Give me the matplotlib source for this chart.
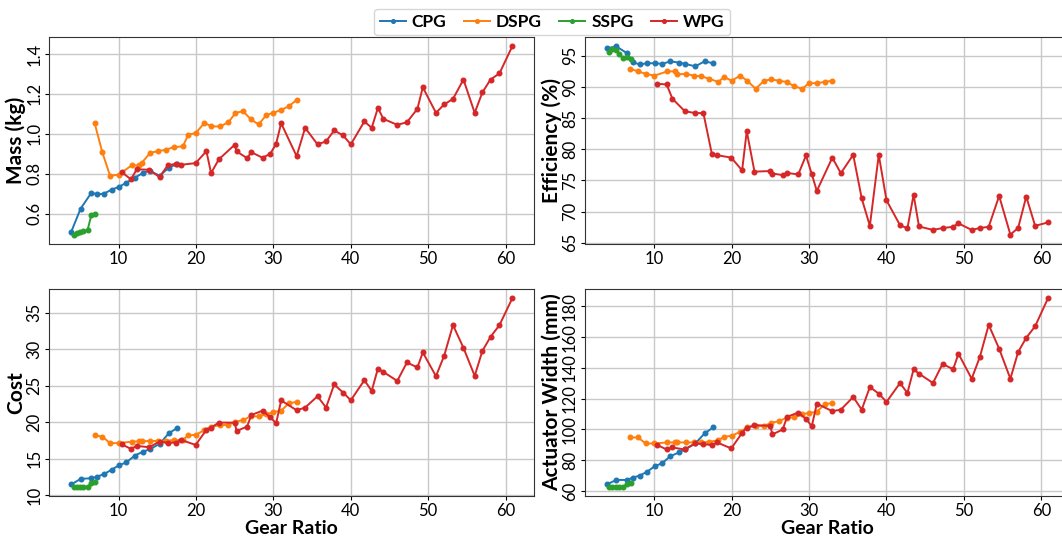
import matplotlib
matplotlib.use('Agg')
import matplotlib.pyplot as plt

# Datos (relacion de transmision vs. metricas)
cpg_gr = [3.9, 5.1, 6.5, 7.2, 8.1, 9.1, 10.1, 11.0, 12.1, 13.2, 14.0, 15.3, 16.5, 17.6]
cpg_mass = [0.51, 0.625, 0.705, 0.697, 0.70, 0.72, 0.735, 0.755, 0.78, 0.805, 0.815, 0.79, 0.83, 0.85]
cpg_eff = [96.2, 96.5, 95.4, 94.0, 93.6, 93.8, 93.8, 93.7, 94.1, 93.9, 93.7, 93.3, 94.1, 93.8]
cpg_cost = [11.5, 12.25, 12.35, 12.55, 12.9, 13.5, 14.15, 14.5, 15.45, 16.0, 16.3, 17.05, 18.5, 19.25]
cpg_width = [64.4, 67.2, 67.2, 68.7, 70.0, 72.6, 76.3, 78.0, 82.7, 85.1, 87.3, 90.9, 97.4, 101.3]

dspg_gr = [6.9, 7.9, 8.9, 10.0, 11.7, 12.7, 13.0, 14.1, 15.1, 16.1, 17.1, 18.3, 19.0, 20.0,
           21.1, 22.0, 23.1, 24.2, 25.1, 26.1, 27.1, 28.1, 29.1, 30.0, 31.0, 32.0, 33.0]
dspg_mass = [1.055, 0.908, 0.79, 0.795, 0.842, 0.842, 0.855, 0.905, 0.913, 0.92, 0.933, 0.937,
             0.995, 1.005, 1.055, 1.037, 1.037, 1.058, 1.105, 1.113, 1.072, 1.047, 1.095,
             1.105, 1.12, 1.138, 1.17]
dspg_eff = [92.9, 92.5, 92.1, 91.8, 92.5, 92.5, 92.0, 92.1, 91.8, 91.7, 91.3, 90.8, 91.6, 91.0,
            91.8, 91.0, 89.7, 91.0, 91.2, 91.0, 90.8, 90.1, 89.7, 90.6, 90.6, 90.8, 91.0]
dspg_cost = [18.2, 18.05, 17.15, 17.15, 17.35, 17.4, 17.4, 17.45, 17.45, 17.5, 17.55, 17.6, 18.2,
             18.3, 18.95, 19.4, 19.6, 19.65, 20.1, 20.3, 20.85, 20.8, 21.1, 21.4, 21.6, 22.6, 22.8]
dspg_width = [94.8, 94.8, 90.9, 90.9, 91.6, 91.6, 91.6, 91.6, 91.6, 91.6, 92.0, 93.0, 95.3, 95.9,
              98.5, 101.3, 102.4, 102.4, 104.3, 105.4, 107.6, 107.8, 109.9, 110.8, 111.4,
              116.4, 117.2]

sspg_gr = [4.2, 4.6, 5.0, 5.45, 6.0, 6.5, 7.0]
sspg_mass = [0.495, 0.505, 0.508, 0.512, 0.518, 0.595, 0.60]
sspg_eff = [95.6, 96.1, 96.0, 95.3, 94.6, 94.8, 94.4]
sspg_cost = [11.2, 11.2, 11.2, 11.2, 11.2, 11.7, 11.85]
sspg_width = [62.9, 62.9, 62.9, 62.9, 62.9, 64.6, 65.5]

wpg_gr = [10.4, 11.6, 12.35, 13.95, 15.3, 16.35, 17.45, 18.1, 19.95, 21.35,
          21.95, 22.95, 25.0, 25.25, 26.6, 27.15, 28.6, 29.6, 30.35, 31.0,
          33.0, 34.1, 35.7, 36.8, 37.85, 39.0, 40.0, 41.75, 42.7, 43.5,
          44.2, 46.0, 47.25, 48.6, 49.3, 51.0, 52.05, 53.2, 54.55, 56.0,
          57.0, 58.05, 59.2, 60.85]
wpg_mass = [0.808, 0.772, 0.822, 0.82, 0.783, 0.842, 0.85, 0.845, 0.853, 0.913,
            0.803, 0.872, 0.945, 0.912, 0.878, 0.908, 0.88, 0.9, 0.95, 1.053,
            0.888, 1.03, 0.947, 0.962, 1.017, 0.992, 0.947, 1.062, 1.03, 1.13,
            1.075, 1.045, 1.058, 1.125, 1.233, 1.105, 1.147, 1.175, 1.272, 1.105,
            1.208, 1.272, 1.303, 1.438]
wpg_eff = [90.5, 90.4, 88.1, 86.1, 85.8, 85.8, 79.2, 79.05, 78.65, 76.6,
           82.9, 76.4, 76.5, 76.1, 75.85, 76.2, 75.95, 79.0, 76.0, 73.3,
           78.65, 76.15, 79.1, 72.1, 67.7, 79.1, 71.8, 67.8, 67.3, 72.7,
           67.6, 67.05, 67.35, 67.55, 68.1, 67.05, 67.35, 67.55, 72.5, 66.3,
           67.35, 72.4, 67.7, 68.25]
wpg_cost = [17.0, 16.36, 16.77, 16.59, 17.36, 17.22, 17.22, 17.59, 16.9, 18.96,
            19.28, 19.96, 19.96, 18.82, 19.41, 21.0, 21.6, 20.69, 19.87, 23.0,
            21.65, 22.02, 23.57, 22.02, 25.18, 24.08, 23.02, 25.77, 24.3, 27.37,
            26.9, 25.67, 28.2, 27.51, 29.57, 26.32, 29.1, 33.31, 30.2, 26.36,
            29.79, 31.71, 33.31, 36.97]
wpg_width = [89.9, 87.0, 88.3, 87.0, 90.9, 90.5, 89.9, 91.6, 87.7, 97.8,
             101.1, 102.8, 102.4, 96.8, 100.0, 108.2, 111.0, 106.9, 102.1, 116.8,
             111.9, 112.9, 121.1, 112.9, 127.6, 123.3, 117.9, 130.2, 123.7, 139.1,
             136.3, 130.2, 142.7, 139.1, 149.2, 133.0, 147.0, 168.0, 152.5, 133.0,
             150.3, 159.6, 167.1, 185.2]

plt.rcParams['font.family'] = ['Lato', 'DejaVu Sans']

series = [
    ('CPG', 'tab:blue', cpg_gr, [cpg_mass, cpg_eff, cpg_cost, cpg_width]),
    ('DSPG', 'tab:orange', dspg_gr, [dspg_mass, dspg_eff, dspg_cost, dspg_width]),
    ('SSPG', 'tab:green', sspg_gr, [sspg_mass, sspg_eff, sspg_cost, sspg_width]),
    ('WPG', 'tab:red', wpg_gr, [wpg_mass, wpg_eff, wpg_cost, wpg_width]),
]
ylabels = ['Mass (kg)', 'Efficiency (%)', 'Cost', 'Actuator Width (mm)']
yticks = [[0.6, 0.8, 1.0, 1.2, 1.4],
          [65, 70, 75, 80, 85, 90, 95],
          [10, 15, 20, 25, 30, 35],
          [60, 80, 100, 120, 140, 160, 180]]

fig, axs = plt.subplots(2, 2, figsize=(10.62, 5.41), dpi=100)
# el panel derecho queda un poco cortado como en la referencia
fig.subplots_adjust(left=0.0464, right=1.0075, top=0.9316, bottom=0.0832,
                    wspace=0.1045, hspace=0.2174)

for i, ax in enumerate(axs.flat):
    for name, color, gr, vals in series:
        ax.plot(gr, vals[i], color=color, marker='o', ms=3.3, lw=1.4, label=name)
    ax.set_xticks([10, 20, 30, 40, 50, 60])
    ax.set_yticks(yticks[i])
    ax.grid(c='#c8c8c8', lw=1)
    ax.set_axisbelow(True)
    ax.set_ylabel(ylabels[i], fontsize=15, fontweight='bold', labelpad=0)
    ax.tick_params(labelsize=12, length=3, pad=2)
    plt.setp(ax.get_yticklabels(), rotation=90, va='center')
    for s in ax.spines.values():
        s.set_color('#333333')
    if i >= 2:
        ax.set_xlabel('Gear Ratio', fontsize=14, fontweight='bold', labelpad=1)

axs[0, 0].set_yticklabels(['0.6', '0.8', '1.0', '1.2', '1.4'])

handles, labels = axs[0, 0].get_legend_handles_labels()
fig.legend(handles, labels, loc='upper center', bbox_to_anchor=(0.52, 1.0), ncol=4,
           prop={'weight': 'bold', 'size': 12.5}, columnspacing=1.0, handlelength=1.5,
           handletextpad=0.35, markerscale=0.8, borderpad=0.3)

fig.savefig('out.png', dpi=100)
